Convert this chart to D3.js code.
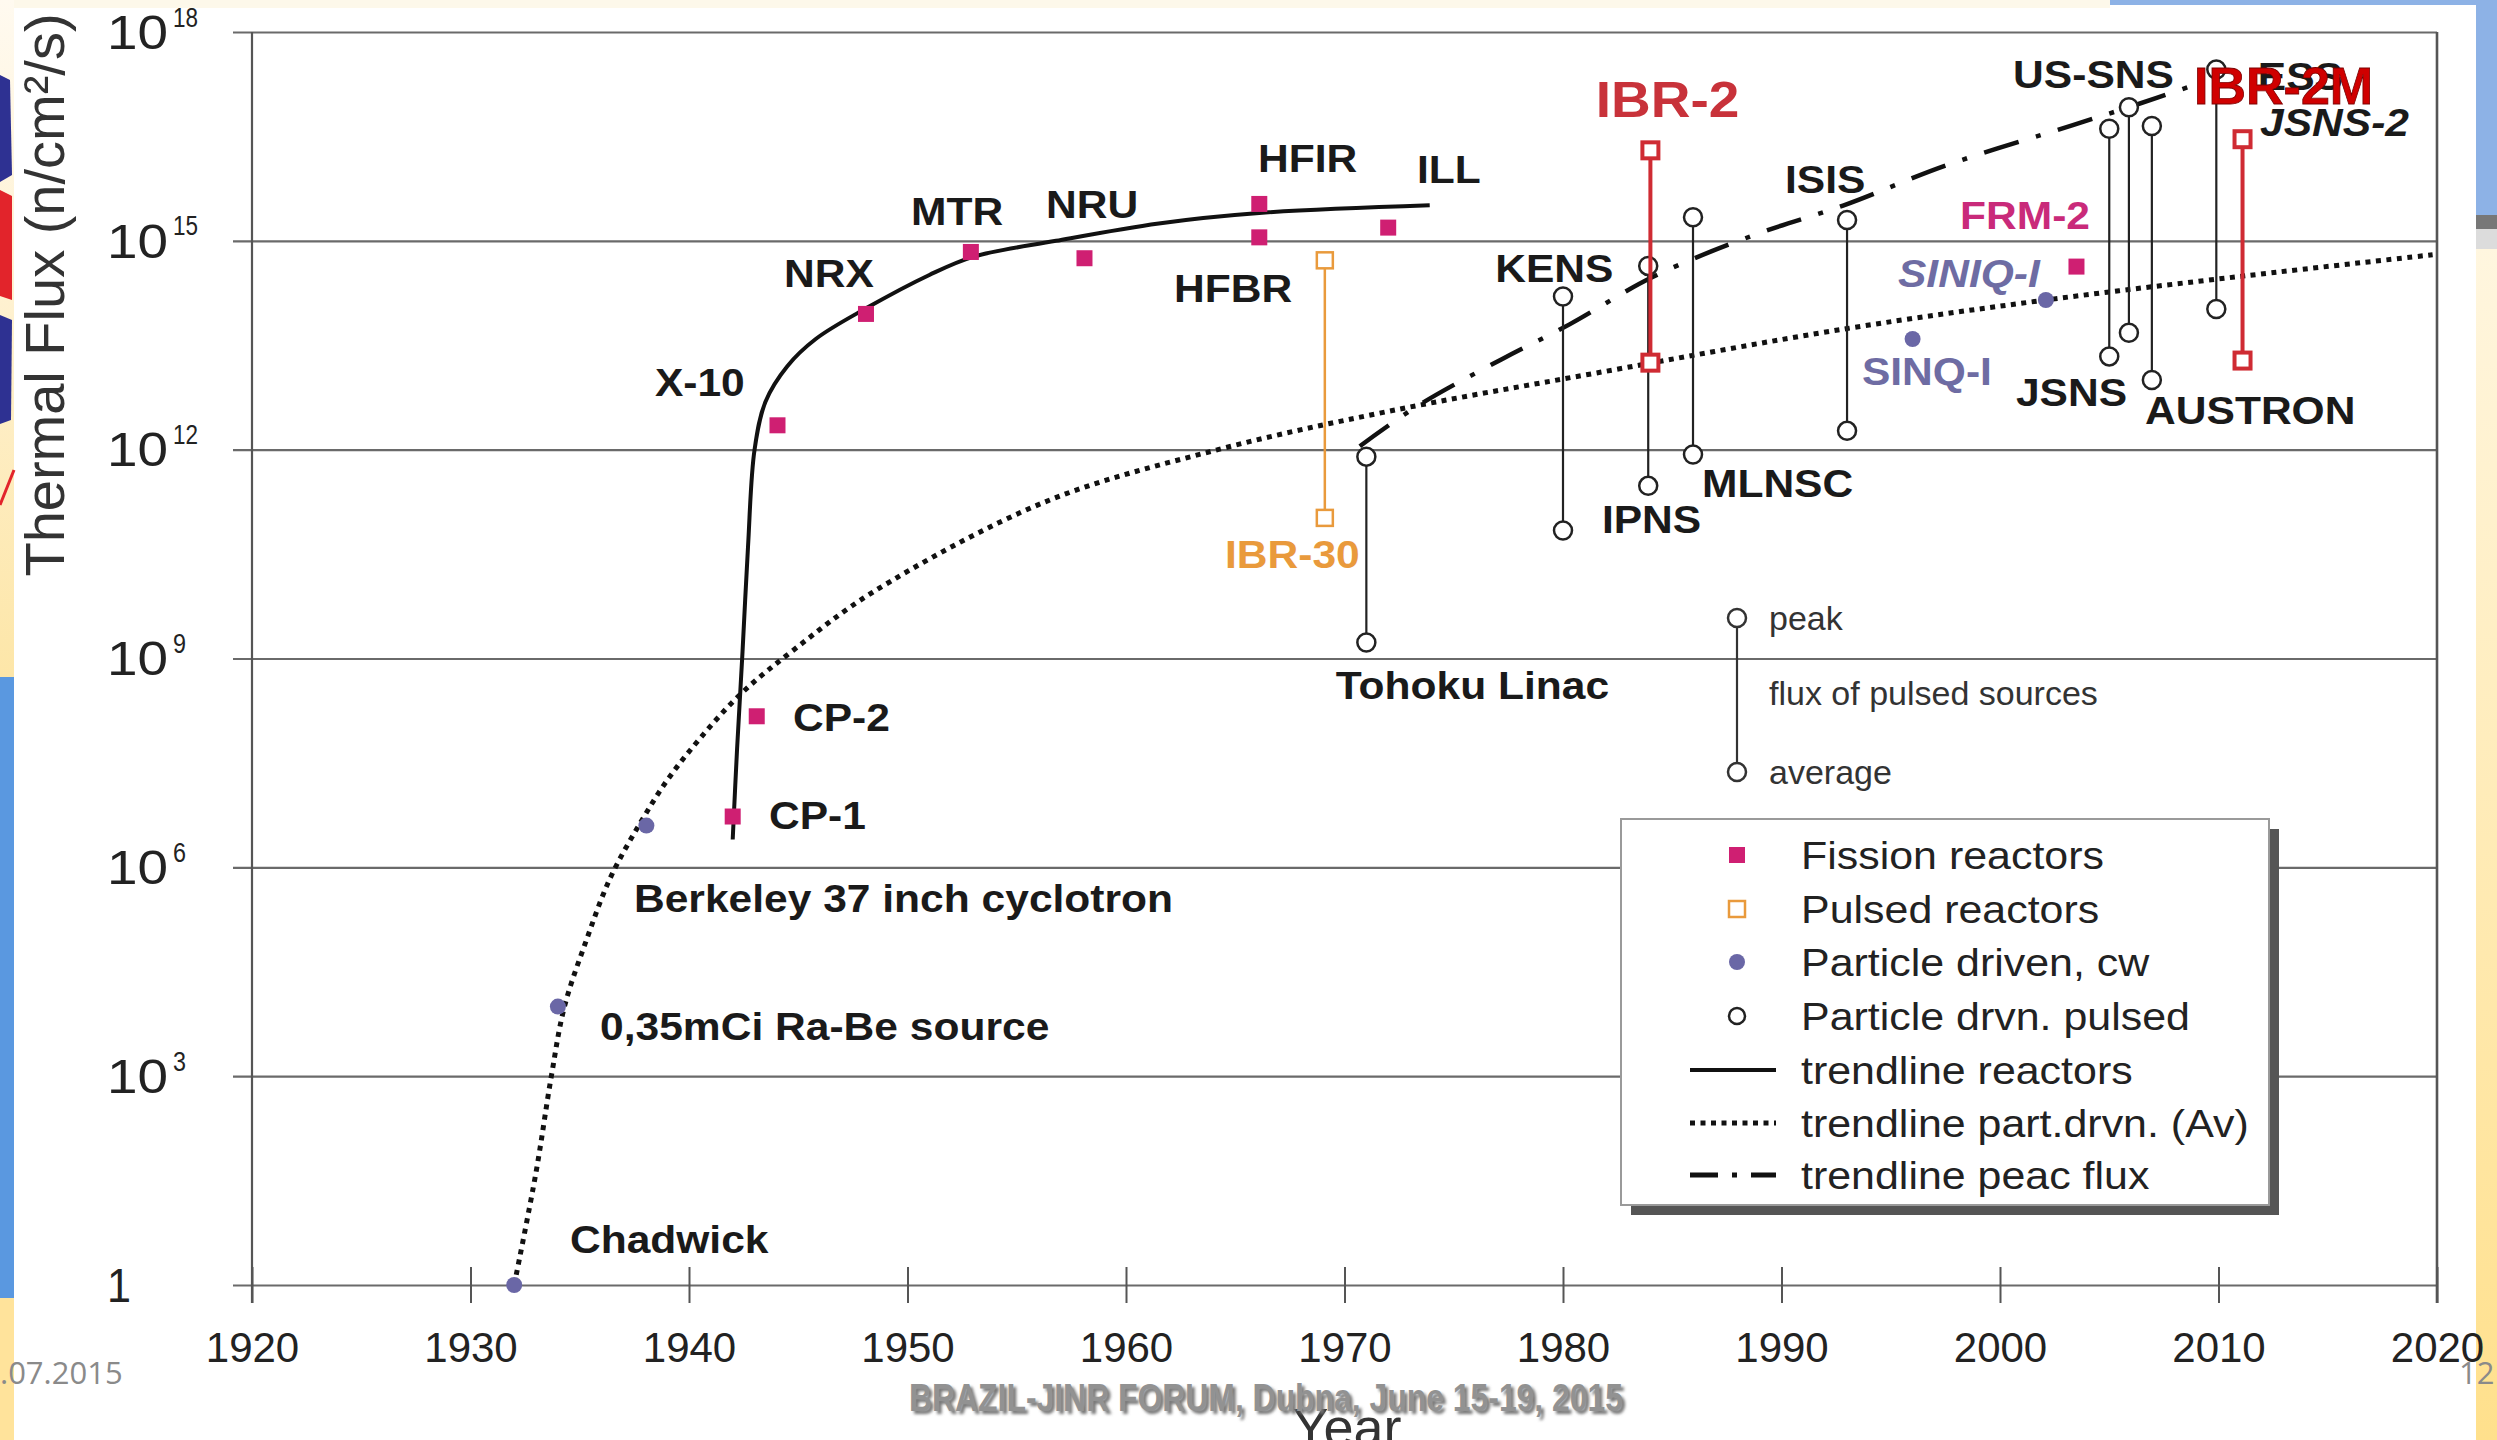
<!DOCTYPE html>
<html><head><meta charset="utf-8">
<script src="https://cdn.jsdelivr.net/npm/d3@7"></script>
<style>html,body{margin:0;padding:0;background:#fff;overflow:hidden}svg{display:block}</style>
</head><body>
<script>
// ---------------- DATA (flux given as log10 of n/cm²/s) ----------------
const fissionReactors = [
  {name:"CP-1", year:1942.0, logFlux:6.73},
  {name:"CP-2", year:1943.1, logFlux:8.17},
  {name:"X-10", year:1944.05, logFlux:12.35},
  {name:"NRX", year:1948.1, logFlux:13.95},
  {name:"MTR", year:1952.9, logFlux:14.84},
  {name:"NRU", year:1958.1, logFlux:14.75},
  {name:"HFIR", year:1966.1, logFlux:15.53},
  {name:"HFBR", year:1966.1, logFlux:15.05},
  {name:"ILL", year:1972.0, logFlux:15.19},
  {name:"FRM-2", year:2003.5, logFlux:14.63}
];
const particleCw = [
  {name:"Chadwick", year:1932.0, logFlux:0.0},
  {name:"Ra-Be", year:1934.0, logFlux:4.0},
  {name:"Berkeley", year:1938.05, logFlux:6.6},
  {name:"SINQ-I", year:1996.0, logFlux:13.59},
  {name:"SINIQ-I", year:2002.1, logFlux:14.15}
];
const particlePulsed = [ // peak / average
  {name:"Tohoku Linac", year:1971.0, peak:11.9, avg:9.23},
  {name:"KENS", year:1980.0, peak:14.2, avg:10.84},
  {name:"IPNS", year:1983.9, peak:14.64, avg:11.48},
  {name:"MLNSC", year:1985.95, peak:15.34, avg:11.93},
  {name:"ISIS", year:1993.0, peak:15.3, avg:12.27},
  {name:"JSNS", year:2005.0, peak:16.61, avg:13.34},
  {name:"US-SNS", year:2005.9, peak:16.92, avg:13.68},
  {name:"AUSTRON", year:2006.95, peak:16.65, avg:13.0},
  {name:"ESS", year:2009.9, peak:17.46, avg:14.02}
];
const pulsedReactors = [
  {name:"IBR-30", year:1969.1, peak:14.72, avg:11.02, kind:"orange"},
  {name:"IBR-2", year:1984.0, peak:16.3, avg:13.25, kind:"red"},
  {name:"IBR-2M", year:2011.1, peak:16.46, avg:13.28, kind:"red"}
];
const trendReactors = [[1942.0,6.40],[1942.2,7.7],[1942.45,9.1],[1942.7,10.6],[1943.0,12.0],[1943.5,12.69],[1944.5,13.2],[1945.8,13.59],[1948.1,14.03],[1951.0,14.51],[1953.0,14.77],[1956.8,15.0],[1961.5,15.25],[1966.1,15.40],[1973.9,15.51]];
const trendAverage = [[1932.0,0],[1933.0,1.62],[1933.7,3.0],[1934.3,4.0],[1935.3,4.95],[1936.4,5.85],[1937.7,6.6],[1939.0,7.25],[1940.5,7.85],[1942.4,8.5],[1944.9,9.15],[1948.4,9.95],[1956.3,11.25],[1964.2,12.0],[1972.0,12.55],[1981.5,13.1],[1993.0,13.74],[2002.1,14.15],[2011.3,14.5],[2019.8,14.8]];
const trendPeak = [[1970.7,12.05],[1973.35,12.63],[1977.2,13.3],[1980.3,13.8],[1984.1,14.48],[1988.8,15.09],[1992.85,15.51],[1997.5,16.08],[2003.3,16.66],[2005.9,16.92],[2009.0,17.25]];
const xTickYears = [1920,1930,1940,1950,1960,1970,1980,1990,2000,2010,2020];
const yTickExponents = [0,3,6,9,12,15,18];
// labels anchored in data space (year, log10 flux)
const labels = [
  {text:"Chadwick", year:1934.55, logFlux:0.66, style:"b"},
  {text:"0,35mCi Ra-Be source", year:1935.93, logFlux:3.71, style:"b"},
  {text:"Berkeley 37 inch cyclotron", year:1937.48, logFlux:5.56, style:"b"},
  {text:"CP-1", year:1943.66, logFlux:6.75, style:"b"},
  {text:"CP-2", year:1944.76, logFlux:8.15, style:"b"},
  {text:"X-10", year:1938.44, logFlux:12.97, style:"b"},
  {text:"NRX", year:1944.35, logFlux:14.53, style:"b"},
  {text:"MTR", year:1950.16, logFlux:15.42, style:"b"},
  {text:"NRU", year:1956.34, logFlux:15.52, style:"b"},
  {text:"HFIR", year:1966.04, logFlux:16.18, style:"b"},
  {text:"ILL", year:1973.32, logFlux:16.03, style:"b"},
  {text:"HFBR", year:1962.2, logFlux:14.32, style:"b"},
  {text:"IBR-30", year:1964.53, logFlux:10.5, style:"orange"},
  {text:"Tohoku Linac", year:1969.6, logFlux:8.61, style:"b"},
  {text:"KENS", year:1976.9, logFlux:14.61, style:"b"},
  {text:"IBR-2", year:1981.5, logFlux:17.04, style:"red"},
  {text:"IPNS", year:1981.78, logFlux:11.0, style:"b"},
  {text:"MLNSC", year:1986.36, logFlux:11.52, style:"b"},
  {text:"ISIS", year:1990.16, logFlux:15.88, style:"b"},
  {text:"FRM-2", year:1998.17, logFlux:15.37, style:"magenta"},
  {text:"SINIQ-I", year:1995.33, logFlux:14.53, style:"purpleItalic"},
  {text:"SINQ-I", year:1993.68, logFlux:13.13, style:"purple"},
  {text:"JSNS", year:2000.73, logFlux:12.83, style:"b"},
  {text:"AUSTRON", year:2006.64, logFlux:12.56, style:"b"},
  {text:"US-SNS", year:2000.6, logFlux:17.39, style:"b"},
  {text:"ESS", year:2011.8, logFlux:17.37, style:"b"},
  {text:"IBR-2M", year:2008.88, logFlux:17.23, style:"bigRed"},
  {text:"JSNS-2", year:2011.9, logFlux:16.7, style:"italic"}
];
const legendItems = ["Fission reactors","Pulsed reactors","Particle driven, cw","Particle drvn. pulsed","trendline reactors","trendline part.drvn. (Av)","trendline peac flux"];

// ---------------- RENDER ----------------
const W=2497,H=1440;
const FONT='"Liberation Sans", Arial, Helvetica, sans-serif';
const C={fission:"#cf1f72",orange:"#e99a3c",red:"#cf2b33",purple:"#6a67a6",ink:"#1a1a1a"};
const x=d3.scaleLinear().domain([1920,2020]).range([252,2437]);
const y=d3.scaleLog().domain([1,1e18]).range([1285,32]);
const yl=v=>y(Math.pow(10,v));
const svg=d3.select("body").append("svg").attr("width",W).attr("height",H).attr("font-family",FONT);
const defs=svg.append("defs");
const g1=defs.append("linearGradient").attr("id","yel").attr("x1",0).attr("y1",0).attr("x2",0).attr("y2",1);
g1.append("stop").attr("offset","0").attr("stop-color","#fff6df");
g1.append("stop").attr("offset","1").attr("stop-color","#ffe08c");
const g2=defs.append("linearGradient").attr("id","yel2").attr("x1",0).attr("y1",0).attr("x2",0).attr("y2",1);
g2.append("stop").attr("offset","0").attr("stop-color","#fffaf0");
g2.append("stop").attr("offset","1").attr("stop-color","#fde6a8");
const blur=defs.append("filter").attr("id","soft").attr("x","-5%").attr("y","-20%").attr("width","110%").attr("height","140%");
blur.append("feGaussianBlur").attr("stdDeviation",1.5);

// slide decoration
svg.append("rect").attr("x",0).attr("y",0).attr("width",W).attr("height",H).attr("fill","#fff");
svg.append("rect").attr("x",0).attr("y",0).attr("width",2110).attr("height",8).attr("fill","#fdf8ea");
svg.append("rect").attr("x",2110).attr("y",0).attr("width",387).attr("height",5).attr("fill","#8db2e6");
svg.append("rect").attr("x",2476).attr("y",0).attr("width",21).attr("height",215).attr("fill","#8db2e6");
svg.append("rect").attr("x",2476).attr("y",215).attr("width",21).attr("height",14).attr("fill","#777");
svg.append("rect").attr("x",2476).attr("y",229).attr("width",21).attr("height",20).attr("fill","#dcdcdc");
svg.append("rect").attr("x",2476).attr("y",249).attr("width",21).attr("height",H-249).attr("fill","url(#yel)");
svg.append("rect").attr("x",0).attr("y",0).attr("width",14).attr("height",677).attr("fill","url(#yel2)");
svg.append("path").attr("d","M0,75 L10,80 L12,175 L0,182 Z").attr("fill","#2e3192");
svg.append("path").attr("d","M0,190 L12,196 L12,300 L0,296 Z").attr("fill","#e2242b");
svg.append("path").attr("d","M0,315 L12,320 L11,420 L0,424 Z").attr("fill","#2e3192");
svg.append("line").attr("x1",0).attr("y1",505).attr("x2",14).attr("y2",470).attr("stroke","#e2242b").attr("stroke-width",3);
svg.append("rect").attr("x",0).attr("y",677).attr("width",14).attr("height",621).attr("fill","#5a98e0");
svg.append("rect").attr("x",0).attr("y",1298).attr("width",14).attr("height",142).attr("fill","#ffe39b");

// gridlines
svg.append("g").attr("transform","translate(233,0)")
  .call(d3.axisRight(y).tickValues(yTickExponents.map(e=>Math.pow(10,e))).tickSize(2437-233).tickFormat(""))
  .call(g=>g.select(".domain").remove())
  .call(g=>g.selectAll(".tick line").attr("stroke","#6a6a6a").attr("stroke-width",2.2));
// frame lines
svg.append("line").attr("x1",252).attr("x2",252).attr("y1",32).attr("y2",1303).attr("stroke","#555").attr("stroke-width",2.2);
svg.append("line").attr("x1",2437).attr("x2",2437).attr("y1",32).attr("y2",1303).attr("stroke","#555").attr("stroke-width",2.6);

// y axis labels
const gy=svg.append("g").attr("transform","translate(252,0)")
  .call(d3.axisLeft(y).tickValues(yTickExponents.map(e=>Math.pow(10,e))).tickSize(0).tickFormat(""));
gy.select(".domain").remove();
gy.attr("font-family",FONT).attr("font-size",48);
gy.selectAll(".tick").each(function(d){
  const tick=d3.select(this); const t=tick.select("text"); const e=Math.round(Math.log10(d));
  t.attr("x",-145).attr("dy","0.34em").attr("text-anchor","start").attr("fill","#222");
  if(e===0){t.text("1").attr("textLength",24).attr("lengthAdjust","spacingAndGlyphs");}
  else{
    t.text("10").attr("textLength",61).attr("lengthAdjust","spacingAndGlyphs");
    tick.append("text").attr("x",-79).attr("y",-6).attr("font-size",27).attr("fill","#222").attr("text-anchor","start")
      .attr("textLength",e>9?25:13).attr("lengthAdjust","spacingAndGlyphs").text(e);
  }
});
// x axis
const gx=svg.append("g").attr("transform","translate(0,1285)")
  .call(d3.axisBottom(x).tickValues(xTickYears).tickSize(18).tickPadding(29).tickFormat(d3.format("d")));
gx.select(".domain").remove();
gx.attr("font-family",FONT).attr("font-size",42);
gx.selectAll(".tick line").attr("y1",-18).attr("stroke","#555").attr("stroke-width",2);
gx.selectAll(".tick text").attr("fill","#222");

// axis titles
svg.append("text").attr("transform","translate(64,295) rotate(-90)").attr("text-anchor","middle")
  .attr("font-size",56).attr("fill","#333").text("Thermal Flux (n/cm²/s)");
svg.append("text").attr("x",1347).attr("y",1446).attr("text-anchor","middle").attr("font-size",54).attr("fill","#333").text("Year");

// trendlines
const line=d3.line().x(d=>x(d[0])).y(d=>yl(d[1])).curve(d3.curveCatmullRom.alpha(0.5));
svg.append("path").attr("d",line(trendAverage)).attr("fill","none").attr("stroke","#111").attr("stroke-width",5).attr("stroke-dasharray","5,5.5");
svg.append("path").attr("d",line(trendPeak)).attr("fill","none").attr("stroke","#111").attr("stroke-width",4.5).attr("stroke-dasharray","36,18,5,18");
svg.append("path").attr("d",line(trendReactors)).attr("fill","none").attr("stroke","#111").attr("stroke-width",4);

// pulsed particle sources
const pp=svg.append("g");
pp.selectAll("line").data(particlePulsed).join("line")
  .attr("x1",d=>x(d.year)).attr("x2",d=>x(d.year)).attr("y1",d=>yl(d.peak)).attr("y2",d=>yl(d.avg))
  .attr("stroke","#222").attr("stroke-width",2.2);
particlePulsed.forEach(d=>{
  [d.peak,d.avg].forEach(v=>pp.append("circle").attr("cx",x(d.year)).attr("cy",yl(v)).attr("r",9)
    .attr("fill","#fff").attr("stroke","#222").attr("stroke-width",2.5));
});
// pulsed reactors
const pr=svg.append("g");
pulsedReactors.forEach(d=>{
  const col=d.kind==="red"?C.red:C.orange, sw=d.kind==="red"?4:2.5, s=16;
  pr.append("line").attr("x1",x(d.year)).attr("x2",x(d.year)).attr("y1",yl(d.peak)).attr("y2",yl(d.avg)).attr("stroke",col).attr("stroke-width",sw);
  [d.peak,d.avg].forEach(v=>pr.append("rect").attr("x",x(d.year)-s/2).attr("y",yl(v)-s/2).attr("width",s).attr("height",s)
    .attr("fill","#fff").attr("stroke",col).attr("stroke-width",d.kind==="red"?4:2.5));
});
// fission reactors
svg.append("g").selectAll("rect").data(fissionReactors).join("rect")
  .attr("x",d=>x(d.year)-8).attr("y",d=>yl(d.logFlux)-8).attr("width",16).attr("height",16).attr("fill",C.fission);
// particle cw
svg.append("g").selectAll("circle").data(particleCw).join("circle")
  .attr("cx",d=>x(d.year)).attr("cy",d=>yl(d.logFlux)).attr("r",8).attr("fill",C.purple);

// labels (slightly wide, as in the source picture)
const styles={
  b:{fill:C.ink,size:38,sx:1.12,italic:false},
  orange:{fill:C.orange,size:38,sx:1.12,italic:false},
  red:{fill:"#c8323a",size:50,sx:1.1,italic:false},
  magenta:{fill:"#c92a7a",size:38,sx:1.12,italic:false},
  purple:{fill:"#6e6ca3",size:38,sx:1.12,italic:false},
  purpleItalic:{fill:"#6e6ca3",size:38,sx:1.12,italic:true},
  italic:{fill:C.ink,size:38,sx:1.12,italic:true},
  bigRed:{fill:"#d00000",size:52,sx:1.0,italic:false}
};
svg.append("g").selectAll("text").data(labels).join("text")
  .attr("transform",d=>`translate(${x(d.year)},${yl(d.logFlux)}) scale(${styles[d.style].sx},1)`)
  .attr("dy","0.36em")
  .attr("font-size",d=>styles[d.style].size).attr("font-weight","bold")
  .attr("font-style",d=>styles[d.style].italic?"italic":"normal")
  .attr("fill",d=>styles[d.style].fill)
  .attr("stroke",d=>d.style==="bigRed"?"#7a0000":"none").attr("stroke-width",d=>d.style==="bigRed"?0.8:0)
  .text(d=>d.text);

// peak / average key
const key=svg.append("g");
key.append("line").attr("x1",1737).attr("x2",1737).attr("y1",618).attr("y2",772).attr("stroke","#333").attr("stroke-width",2.2);
[618,772].forEach(cy=>key.append("circle").attr("cx",1737).attr("cy",cy).attr("r",9).attr("fill","#fff").attr("stroke","#333").attr("stroke-width",2.5));
[["peak",618],["flux of pulsed sources",693],["average",772]].forEach(([t,yy])=>key.append("text").attr("x",1769).attr("y",yy).attr("dy","0.36em").attr("font-size",34).attr("fill","#333").text(t));

// legend box
const lg=svg.append("g");
lg.append("rect").attr("x",1631).attr("y",829).attr("width",648).attr("height",386).attr("fill","#555");
lg.append("rect").attr("x",1621).attr("y",819).attr("width",648).attr("height",386).attr("fill","#fff").attr("stroke","#9a9a9a").attr("stroke-width",2);
const rowY=[855,909,962,1016,1070,1123,1175];
legendItems.forEach((t,i)=>{
  const yy=rowY[i];
  lg.append("text").attr("transform",`translate(1801,${yy}) scale(1.13,1)`).attr("dy","0.36em").attr("font-size",38).attr("fill","#222").text(t);
  if(i===0) lg.append("rect").attr("x",1729).attr("y",yy-8).attr("width",16).attr("height",16).attr("fill",C.fission);
  if(i===1) lg.append("rect").attr("x",1729).attr("y",yy-8).attr("width",16).attr("height",16).attr("fill","#fff").attr("stroke",C.orange).attr("stroke-width",2.5);
  if(i===2) lg.append("circle").attr("cx",1737).attr("cy",yy).attr("r",8).attr("fill",C.purple);
  if(i===3) lg.append("circle").attr("cx",1737).attr("cy",yy).attr("r",8).attr("fill","#fff").attr("stroke","#222").attr("stroke-width",2.5);
  if(i===4) lg.append("line").attr("x1",1690).attr("x2",1776).attr("y1",yy).attr("y2",yy).attr("stroke","#111").attr("stroke-width",4);
  if(i===5) lg.append("line").attr("x1",1690).attr("x2",1776).attr("y1",yy).attr("y2",yy).attr("stroke","#111").attr("stroke-width",5).attr("stroke-dasharray","5,5.5");
  if(i===6) lg.append("line").attr("x1",1690).attr("x2",1776).attr("y1",yy).attr("y2",yy).attr("stroke","#111").attr("stroke-width",5).attr("stroke-dasharray","28,14,5,14");
});

// footer texts
svg.append("text").attr("x",0).attr("y",1384).attr("font-size",31).attr("fill","#8a8a8a").attr("font-family",'"Liberation Sans Narrow","Open Sans",sans-serif').text(".07.2015");
svg.append("text").attr("x",2459).attr("y",1384).attr("font-size",31).attr("fill","#8a8a8a").attr("font-family",'"Liberation Sans Narrow","Open Sans",sans-serif').text("12");
svg.append("text").attr("x",912).attr("y",1414).attr("font-size",38).attr("font-weight","bold").attr("fill","#777").attr("filter","url(#soft)")
  .attr("font-family",'"Liberation Sans Narrow","Liberation Sans",sans-serif').attr("textLength",714).attr("lengthAdjust","spacingAndGlyphs")
  .text("BRAZIL-JINR FORUM, Dubna, June 15-19, 2015");
svg.append("text").attr("x",909).attr("y",1411).attr("font-size",38).attr("font-weight","bold").attr("fill","#929292")
  .attr("font-family",'"Liberation Sans Narrow","Liberation Sans",sans-serif').attr("textLength",714).attr("lengthAdjust","spacingAndGlyphs")
  .text("BRAZIL-JINR FORUM, Dubna, June 15-19, 2015");
</script>
</body></html>
